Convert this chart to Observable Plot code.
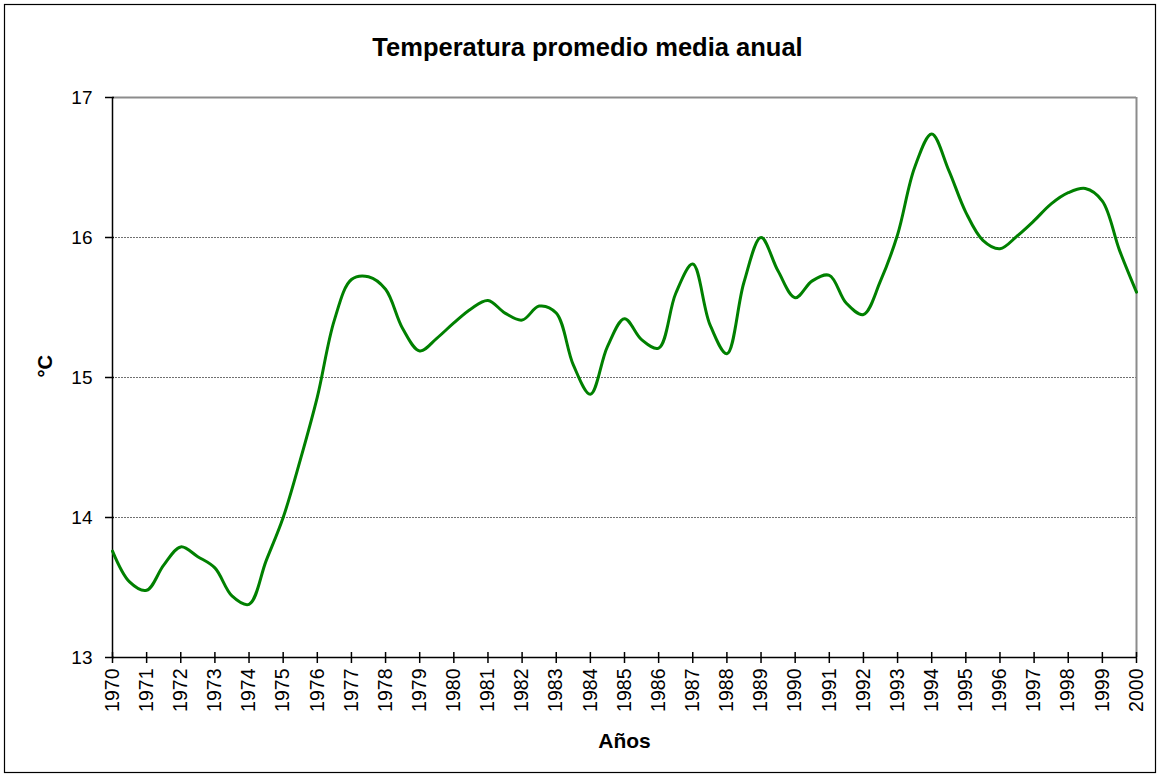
<!DOCTYPE html>
<html>
<head>
<meta charset="utf-8">
<script src="https://cdn.jsdelivr.net/npm/d3@7"></script>
<script src="https://cdn.jsdelivr.net/npm/@observablehq/plot@0.6"></script>
<style>
  html, body { margin: 0; padding: 0; background: #fff; }
  #chart { width: 1160px; height: 776px; }
</style>
</head>
<body>
<div id="chart"></div>
<script>
// Sample times (years, read at half-year steps from the reference)
const times = [
  1970, 1970.5, 1971, 1971.5, 1972, 1972.5, 1973, 1973.5, 1974, 1974.5,
  1975, 1975.5, 1976, 1976.5, 1977, 1977.5, 1978, 1978.5, 1979, 1979.5,
  1980, 1980.5, 1981, 1981.5, 1982, 1982.5, 1983, 1983.5, 1984, 1984.5,
  1985, 1985.5, 1986, 1986.5, 1987, 1987.5, 1988, 1988.5, 1989, 1989.5,
  1990, 1990.5, 1991, 1991.5, 1992, 1992.5, 1993, 1993.5, 1994, 1994.5,
  1995, 1995.5, 1996, 1996.5, 1997, 1997.5, 1998, 1998.5, 1999, 1999.5,
  2000
];
// Mean annual temperature (°C)
const temps = [
  13.76, 13.54, 13.48, 13.66, 13.79, 13.72, 13.64, 13.44, 13.38, 13.69,
  14.00, 14.41, 14.86, 15.41, 15.70, 15.72, 15.63, 15.35, 15.19, 15.28,
  15.39, 15.49, 15.55, 15.46, 15.41, 15.51, 15.46, 15.09, 14.88, 15.22,
  15.42, 15.27, 15.21, 15.60, 15.81, 15.38, 15.17, 15.68, 16.00, 15.76,
  15.57, 15.69, 15.73, 15.53, 15.45, 15.69, 16.02, 16.50, 16.74, 16.48,
  16.18, 15.98, 15.92, 16.01, 16.12, 16.24, 16.32, 16.35, 16.26, 15.91,
  15.61
];
// Axis tick values
const xTicks = [
  1970, 1971, 1972, 1973, 1974, 1975, 1976, 1977, 1978, 1979, 1980,
  1981, 1982, 1983, 1984, 1985, 1986, 1987, 1988, 1989, 1990,
  1991, 1992, 1993, 1994, 1995, 1996, 1997, 1998, 1999, 2000
];
const yTicks = [13, 14, 15, 16, 17];
const gridValues = [14, 15, 16];
const titleText = "Temperatura promedio media anual";
const xLabel = "Años";
const yLabel = "°C";

const data = times.map((t, i) => ({ t, v: temps[i] }));
const xMin = xTicks[0], xMax = xTicks[xTicks.length - 1];
const yMin = yTicks[0], yMax = yTicks[yTicks.length - 1];

const font = "'Liberation Sans', Arial, sans-serif";

const chart = Plot.plot({
  width: 1160,
  height: 776,
  marginLeft: 112,
  marginRight: 24,
  marginTop: 97,
  marginBottom: 119,
  style: { fontFamily: font, fontSize: "19px", color: "#000", background: "#fff", overflow: "visible" },
  x: { domain: [xMin, xMax] },
  y: { domain: [yMin, yMax] },
  marks: [
    Plot.ruleY(gridValues, { stroke: "#707070", strokeWidth: 1, strokeDasharray: "2,1" }),
    Plot.ruleY([yMax], { stroke: "#8c8c8c", strokeWidth: 2 }),
    Plot.ruleX([xMax], { stroke: "#8c8c8c", strokeWidth: 2 }),
    Plot.axisY(yTicks, { tickSize: 0, tickPadding: 20, label: null, fontSize: 19, tickFormat: d => String(d) }),
    Plot.ruleY(yTicks, { x1: xMin, x2: xMin, insetLeft: -7, insetRight: -2, stroke: "#000", strokeWidth: 1.5 }),
    Plot.axisX(xTicks, { tickSize: 0, tickRotate: -90, tickPadding: 11, label: null, fontSize: 19.5, tickFormat: d => String(d) }),
    Plot.ruleX(xTicks, { y1: yMin, y2: yMin, insetTop: -5, insetBottom: -6, stroke: "#000", strokeWidth: 1.5 }),
    Plot.ruleX([xMin], { stroke: "#000", strokeWidth: 1.5 }),
    Plot.ruleY([yMin], { stroke: "#000", strokeWidth: 1.5 }),
    Plot.line(data, { x: "t", y: "v", curve: "catmull-rom", stroke: "#008000", strokeWidth: 3 }),
    Plot.text([titleText], { text: d => d, frameAnchor: "top", dy: -60, dx: -37, fontWeight: "bold", fontSize: 25.5 }),
    Plot.text([yLabel], { text: d => d, frameAnchor: "left", dx: -67, rotate: -90, fontWeight: "bold", fontSize: 20 }),
    Plot.text([xLabel], { text: d => d, frameAnchor: "bottom", dy: 90, fontWeight: "bold", fontSize: 21 })
  ]
});

d3.select(chart).append("rect")
  .attr("x", 4.5).attr("y", 4.5)
  .attr("width", 1151).attr("height", 768)
  .attr("fill", "none").attr("stroke", "#000").attr("stroke-width", 1.2);

document.getElementById("chart").appendChild(chart);
</script>
</body>
</html>
